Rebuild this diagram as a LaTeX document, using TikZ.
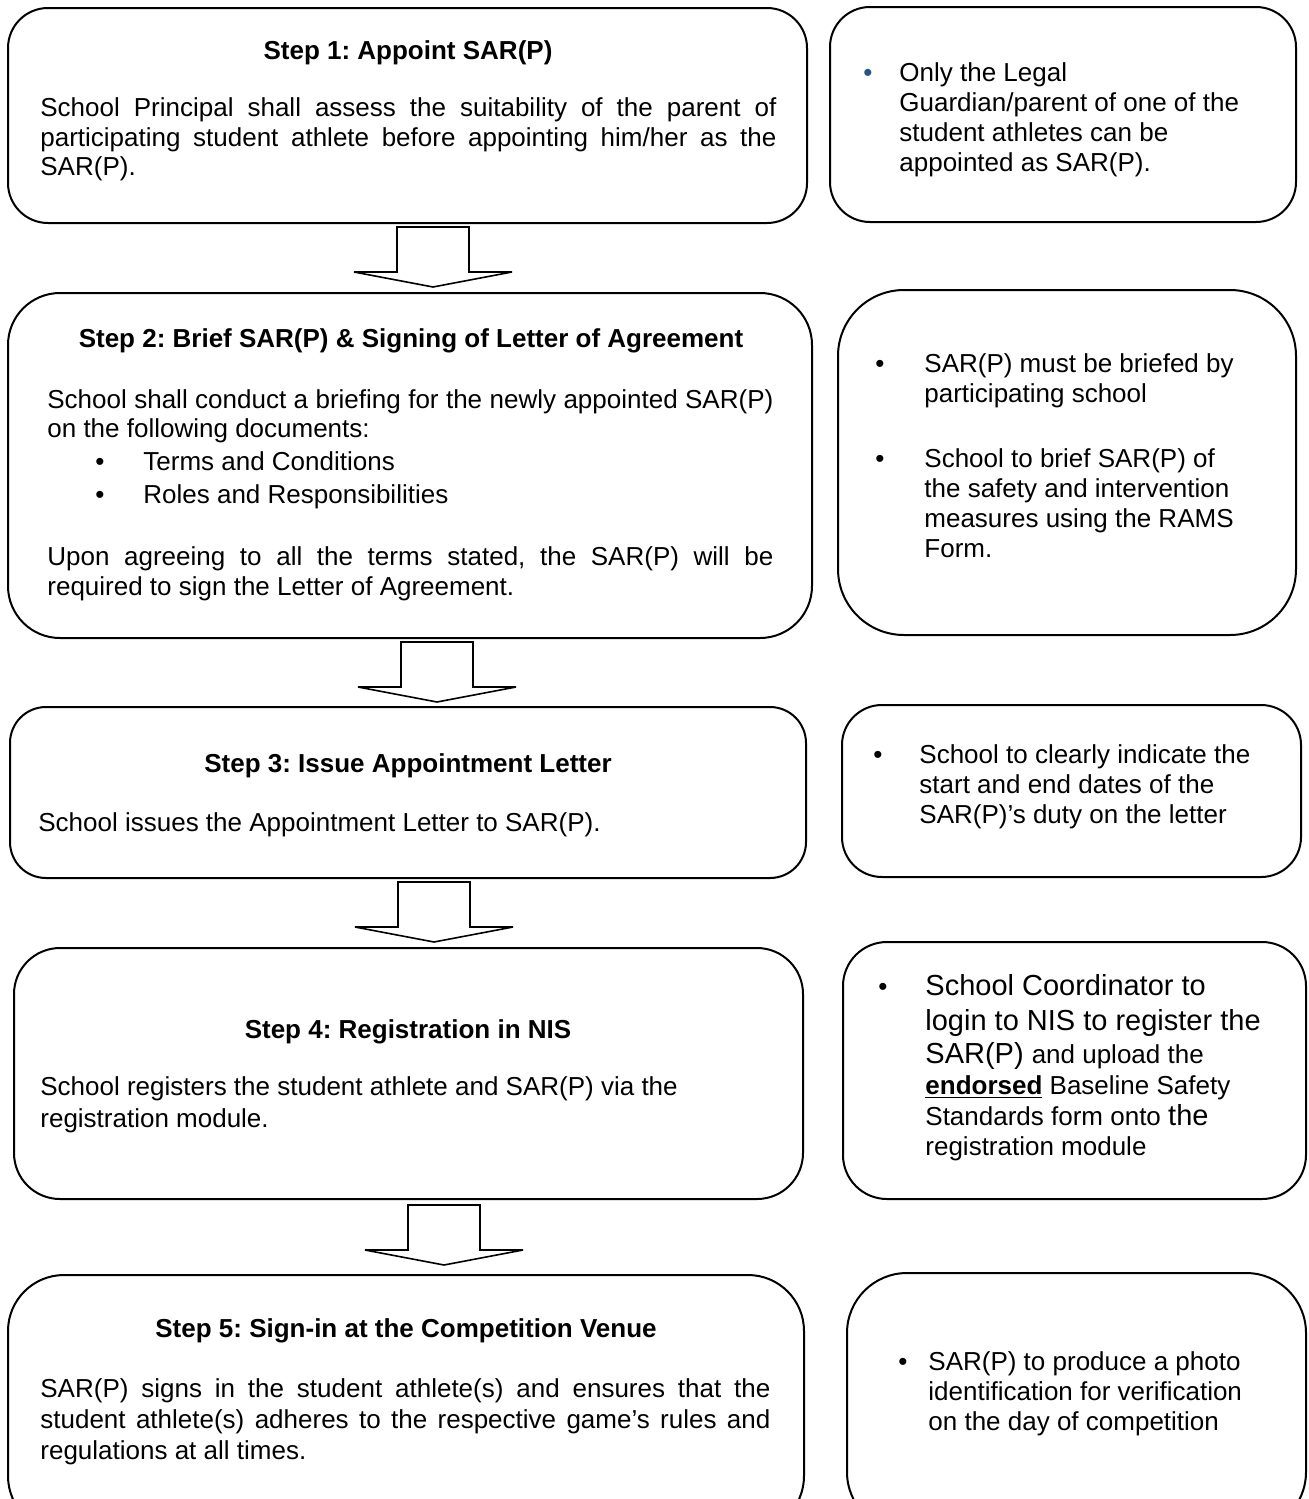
\documentclass[tikz,border=0pt]{standalone}
\usepackage{fontspec}
\setmainfont{Liberation Sans}
\definecolor{bulblue}{RGB}{36,84,140}
\frenchspacing
\begin{document}
\begin{tikzpicture}[x=0.5pt,y=-0.5pt,
  box/.style={draw=black, line width=1pt, inner sep=0pt, outer sep=0pt},
  t/.style={anchor=base west, inner sep=0pt, font=\fontsize{13}{15}\selectfont},
  tb/.style={anchor=base west, inner sep=0pt, font=\fontsize{14.5}{17}\selectfont},
  tt/.style={anchor=base, inner sep=0pt, font=\bfseries\fontsize{13}{15}\selectfont},
  bu/.style={anchor=base, inner sep=0pt, font=\fontsize{13}{15}\selectfont},
  blockarrow/.pic={\draw[line width=0.8pt, line join=miter, fill=white]
     (-36,0) -- (36,0) -- (36,45) -- (79,45) -- (0,60) -- (-79,45) -- (-36,45) -- cycle;}
]
\useasboundingbox (0,0) rectangle (1308,1499);
\clip (0,0) rectangle (1308,1499);

% ---------- boxes ----------
\node[box, rounded corners=20pt, minimum width=399.5pt, minimum height=107.5pt] (s1) at (407.5,115.5) {};
\node[box, rounded corners=20pt, minimum width=233pt,   minimum height=107.5pt] (n1) at (1063,114.5) {};
\node[box, rounded corners=26pt, minimum width=402pt,   minimum height=172.5pt] (s2) at (410,465.5) {};
\node[box, rounded corners=33pt, minimum width=229pt,   minimum height=172.5pt] (n2) at (1067,462.5) {};
\node[box, rounded corners=18pt, minimum width=398pt,   minimum height=85.5pt]  (s3) at (408,792.5) {};
\node[box, rounded corners=20pt, minimum width=229.5pt, minimum height=86pt]    (n3) at (1071.5,791) {};
\node[box, rounded corners=23pt, minimum width=394.5pt, minimum height=125.5pt] (s4) at (408.5,1073.5) {};
\node[box, rounded corners=22pt, minimum width=231.5pt, minimum height=128.5pt] (n4) at (1074.5,1070.5) {};
\node[box, rounded corners=28pt, minimum width=398pt,   minimum height=128.5pt] (s5) at (406,1403.5) {};
\node[box, rounded corners=30pt, minimum width=229.5pt, minimum height=129.5pt] (n5) at (1076.5,1402.5) {};

% ---------- block arrows ----------
\pic at (433,227)  {blockarrow};
\pic at (437,642)  {blockarrow};
\pic at (434,882)  {blockarrow};
\pic at (444,1205) {blockarrow};

% ---------- Step 1 ----------
\node[tt] (s1t) at (408,59) {Step 1: Appoint SAR(P)};
\node[t] (s1a) at (40,116) {\makebox[368pt][s]{School Principal shall assess the suitability of the parent of}};
\node[t] (s1b) at (40,146) {\makebox[368pt][s]{participating student athlete before appointing him/her as the}};
\node[t] (s1c) at (40,175) {SAR(P).};

\node[bu, text=bulblue] (n1u) at (868,81) {•};
\node[t] (n1a) at (899,81) {Only the Legal};
\node[t] (n1b) at (899,111) {Guardian/parent of one of the};
\node[t] (n1c) at (899,141) {student athletes can be};
\node[t] (n1d) at (899,171) {appointed as SAR(P).};

% ---------- Step 2 ----------
\node[tt] (s2t) at (411,347) {Step 2: Brief SAR(P) \& Signing of Letter of Agreement};
\node[t] (s2a) at (47,408) {\makebox[363pt][s]{School shall conduct a briefing for the newly appointed SAR(P)}};
\node[t] (s2b) at (47,437) {on the following documents:};
\node[bu] (s2u1) at (100,470) {•};
\node[t] (s2c) at (143,470) {Terms and Conditions};
\node[bu] (s2u2) at (100,503) {•};
\node[t] (s2d) at (143,503) {Roles and Responsibilities};
\node[t] (s2e) at (47,565) {\makebox[363pt][s]{Upon agreeing to all the terms stated, the SAR(P) will be}};
\node[t] (s2f) at (47,595) {required to sign the Letter of Agreement.};

\node[bu] (n2u1) at (880,372) {•};
\node[t] (n2a) at (924,372) {SAR(P) must be briefed by};
\node[t] (n2b) at (924,402) {participating school};
\node[bu] (n2u2) at (880,467) {•};
\node[t] (n2c) at (924,467) {School to brief SAR(P) of};
\node[t] (n2d) at (924,497) {the safety and intervention};
\node[t] (n2e) at (924,527) {measures using the RAMS};
\node[t] (n2f) at (924,557) {Form.};

% ---------- Step 3 ----------
\node[tt] (s3t) at (408,772) {Step 3: Issue Appointment Letter};
\node[t] (s3a) at (38,831) {School issues the Appointment Letter to SAR(P).};

\node[bu] (n3u) at (878,763) {•};
\node[t] (n3a) at (919,763) {School to clearly indicate the};
\node[t] (n3b) at (919,793) {start and end dates of the};
\node[t] (n3c) at (919,823) {SAR(P)’s duty on the letter};

% ---------- Step 4 ----------
\node[tt] (s4t) at (408,1038) {Step 4: Registration in NIS};
\node[t] (s4a) at (40,1095) {School registers the student athlete and SAR(P) via the};
\node[t] (s4b) at (40,1127) {registration module.};

\node[bu] (n4u) at (883,995) {•};
\node[tb] (n4a) at (925,995) {School Coordinator to};
\node[tb] (n4b) at (925,1030) {login to NIS to register the};
\node[tb] (n4c) at (925,1063) {SAR(P) {\fontsize{13}{15}\selectfont and upload the}};
\node[t] (n4d) at (925,1094) {\underline{\textbf{endorsed}} Baseline Safety};
\node[t] (n4e) at (925,1125) {Standards form onto {\fontsize{14.5}{17}\selectfont the}};
\node[t] (n4f) at (925,1155) {registration module};

% ---------- Step 5 ----------
\node[tt] (s5t) at (406,1337) {Step 5: Sign-in at the Competition Venue};
\node[t] (s5a) at (40,1397) {\makebox[365pt][s]{SAR(P) signs in the student athlete(s) and ensures that the}};
\node[t] (s5b) at (40,1428) {\makebox[365pt][s]{student athlete(s) adheres to the respective game’s rules and}};
\node[t] (s5c) at (40,1459) {regulations at all times.};

\node[bu] (n5u) at (903,1370) {•};
\node[t] (n5a) at (928,1370) {SAR(P) to produce a photo};
\node[t] (n5b) at (928,1400) {identification for verification};
\node[t] (n5c) at (928,1430) {on the day of competition};
\end{tikzpicture}
\end{document}
